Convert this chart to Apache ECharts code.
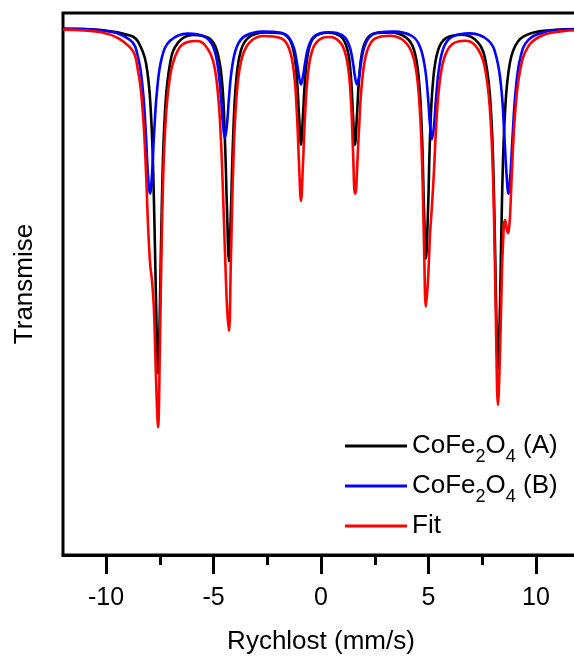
<!DOCTYPE html>
<html>
<head>
<meta charset="utf-8">
<script src="https://cdn.jsdelivr.net/npm/echarts@6/dist/echarts.min.js"></script>
<style>
html,body{margin:0;padding:0;background:#fff;overflow:hidden;width:574px;height:666px;}
#chart{width:579px;height:666px;}
</style>
</head>
<body>
<div id="chart"></div>
<script>
// Velocity (mm/s) and relative transmission
const velA = [
  -12.0, -10.23, -8.84, -8.51, -8.14, -7.91, -7.77, -7.67, -7.58, -7.49, -7.40, -7.26, -7.02, -6.65, -5.95,
  -5.21, -4.84, -4.60, -4.47, -4.37, -4.28, -4.19, -4.09, -3.95, -3.72, -3.35, -2.60,
  -1.86, -1.49, -1.26, -1.12, -1.02, -0.93, -0.84, -0.74, -0.60, -0.37, 0.00, 0.33,
  0.65, 1.02, 1.26, 1.40, 1.49, 1.58, 1.67, 1.77, 1.91, 2.14, 2.51, 3.23,
  3.95, 4.33, 4.56, 4.70, 4.79, 4.88, 4.98, 5.07, 5.21, 5.44, 5.81, 6.56,
  7.30, 7.67, 7.91, 8.05, 8.14, 8.23, 8.33, 8.42, 8.56, 8.79, 9.16, 9.77, 10.93, 12.0
];
const transA = [
  0.9996, 0.9990, 0.9961, 0.9932, 0.9825, 0.9573, 0.9135, 0.8617, 0.8272, 0.8617, 0.9134, 0.9572, 0.9823, 0.9927, 0.9965,
  0.9949, 0.9886, 0.9728, 0.9444, 0.9086, 0.8834, 0.9086, 0.9445, 0.9730, 0.9889, 0.9954, 0.9978,
  0.9974, 0.9947, 0.9878, 0.9744, 0.9560, 0.9417, 0.9559, 0.9743, 0.9878, 0.9947, 0.9973, 0.9976,
  0.9972, 0.9946, 0.9877, 0.9743, 0.9559, 0.9416, 0.9559, 0.9743, 0.9877, 0.9946, 0.9974, 0.9978,
  0.9953, 0.9889, 0.9732, 0.9451, 0.9097, 0.8848, 0.9097, 0.9451, 0.9732, 0.9887, 0.9949, 0.9966,
  0.9928, 0.9825, 0.9578, 0.9147, 0.8637, 0.8297, 0.8637, 0.9147, 0.9580, 0.9828, 0.9933, 0.9974, 0.9991, 0.9995
];

const velB = [
  -12.0, -10.23, -8.88, -8.51, -8.28, -8.14, -8.05, -7.95, -7.86, -7.77, -7.63, -7.40, -7.02, -6.21,
  -5.40, -5.02, -4.79, -4.65, -4.56, -4.47, -4.37, -4.28, -4.14, -3.91, -3.53, -2.70,
  -1.86, -1.49, -1.26, -1.12, -1.02, -0.93, -0.84, -0.74, -0.60, -0.37, 0.00, 0.37,
  0.74, 1.12, 1.35, 1.49, 1.58, 1.67, 1.77, 1.86, 2.00, 2.23, 2.60, 3.42,
  4.23, 4.60, 4.84, 4.98, 5.07, 5.16, 5.26, 5.35, 5.49, 5.72, 6.09, 6.93,
  7.79, 8.16, 8.40, 8.53, 8.63, 8.72, 8.81, 8.91, 9.05, 9.28, 9.65, 10.47, 11.16, 12.0
];
const transB = [
  0.9996, 0.9989, 0.9940, 0.9855, 0.9683, 0.9458, 0.9269, 0.9172, 0.9269, 0.9457, 0.9682, 0.9853, 0.9936, 0.9972,
  0.9956, 0.9907, 0.9800, 0.9651, 0.9520, 0.9449, 0.9520, 0.9652, 0.9800, 0.9908, 0.9960, 0.9982,
  0.9976, 0.9952, 0.9900, 0.9826, 0.9757, 0.9718, 0.9756, 0.9825, 0.9900, 0.9952, 0.9975, 0.9979,
  0.9975, 0.9952, 0.9900, 0.9825, 0.9756, 0.9718, 0.9756, 0.9825, 0.9900, 0.9952, 0.9976, 0.9982,
  0.9960, 0.9908, 0.9798, 0.9649, 0.9516, 0.9444, 0.9515, 0.9648, 0.9798, 0.9906, 0.9956, 0.9973,
  0.9937, 0.9853, 0.9682, 0.9457, 0.9268, 0.9172, 0.9269, 0.9458, 0.9682, 0.9855, 0.9941, 0.9982, 0.9991, 0.9994
];

const velFit = [
  -12.0, -10.23, -8.88, -8.51, -8.28, -8.14, -8.05, -7.95, -7.86, -7.77, -7.67, -7.58, -7.49, -7.40, -7.26, -7.02, -6.65, -6.21,
  -5.77, -5.40, -5.02, -4.79, -4.65, -4.56, -4.47, -4.37, -4.28, -4.19, -4.09, -3.95, -3.72, -3.35, -2.70,
  -1.86, -1.49, -1.26, -1.12, -1.02, -0.93, -0.84, -0.74, -0.60, -0.37, 0.00, 0.37,
  0.65, 1.02, 1.26, 1.40, 1.49, 1.58, 1.63, 1.67, 1.77, 1.91, 2.14, 2.51,
  3.23, 3.95, 4.33, 4.56, 4.70, 4.79, 4.88, 4.98, 5.07, 5.16, 5.26, 5.35, 5.49, 5.72, 6.09, 6.74,
  7.30, 7.67, 7.91, 8.05, 8.14, 8.23, 8.33, 8.42, 8.47, 8.51, 8.56, 8.60, 8.65, 8.70, 8.74, 8.79, 8.88, 9.02, 9.26, 9.63, 10.23, 11.16, 12.0
];
const transFit = [
  0.9992, 0.9979, 0.9903, 0.9786, 0.9566, 0.9283, 0.9028, 0.8824, 0.8735, 0.8592, 0.8238, 0.8004, 0.8422, 0.8987, 0.9469, 0.9759, 0.9890, 0.9930,
  0.9935, 0.9915, 0.9835, 0.9667, 0.9430, 0.9180, 0.8893, 0.8605, 0.8485, 0.8848, 0.9279, 0.9625, 0.9832, 0.9924, 0.9960,
  0.9949, 0.9899, 0.9778, 0.9569, 0.9316, 0.9135, 0.9315, 0.9568, 0.9777, 0.9899, 0.9947, 0.9955,
  0.9949, 0.9907, 0.9804, 0.9623, 0.9383, 0.9172, 0.9189, 0.9276, 0.9498, 0.9732, 0.9883, 0.9947,
  0.9961, 0.9926, 0.9840, 0.9650, 0.9328, 0.8928, 0.8606, 0.8745, 0.8966, 0.9109, 0.9296, 0.9496, 0.9700, 0.9846, 0.9918, 0.9936,
  0.9895, 0.9773, 0.9499, 0.9038, 0.8499, 0.8115, 0.8390, 0.8800, 0.8930, 0.9015, 0.9040, 0.9020, 0.8990, 0.8975, 0.8995, 0.9055, 0.9279, 0.9562, 0.9788, 0.9906, 0.9960, 0.9983, 0.9989
];

const majorTicks = [-10, -5, 0, 5, 10];
const minorTicks = [-7.5, -2.5, 2.5, 7.5];
const seriesNames = ['CoFe2O4 (A)', 'CoFe2O4 (B)', 'Fit'];
const legendLabels = ['{n|CoFe}{s|2}{n|O}{s|4}{n| (A)}', '{n|CoFe}{s|2}{n|O}{s|4}{n| (B)}', '{n|Fit}'];
const seriesColors = ['#000000', '#0000ff', '#ff0000'];

const zip = (xs, ys) => xs.map((x, i) => [x, ys[i]]);
const FONT = '"Liberation Sans", Arial, Helvetica, sans-serif';

const chart = echarts.init(document.getElementById('chart'), null, { renderer: 'canvas' });

const curves = [zip(velA, transA), zip(velB, transB), zip(velFit, transFit)];

const option = {
  animation: false,
  backgroundColor: '#ffffff',
  grid: {
    left: 63, right: 0, top: 13, bottom: 111,
    show: true, borderColor: '#000', borderWidth: 3, backgroundColor: 'transparent'
  },
  xAxis: [
    {
      type: 'value', min: -12, max: 12, position: 'bottom',
      name: 'Rychlost (mm/s)', nameLocation: 'middle', nameGap: 74,
      nameTextStyle: { fontFamily: FONT, fontSize: 26, color: '#000', lineHeight: 26 },
      axisLine: { show: true, onZero: false, lineStyle: { color: '#000', width: 3 } },
      axisTick: { show: true, inside: false, length: 19, lineStyle: { color: '#000', width: 3 }, customValues: majorTicks },
      axisLabel: { show: true, margin: 31, fontFamily: FONT, fontSize: 25, color: '#000', lineHeight: 25, customValues: majorTicks },
      splitLine: { show: false }
    },
    {
      type: 'value', min: -12, max: 12, position: 'bottom',
      axisLine: { show: false },
      axisTick: { show: true, inside: false, length: 10, lineStyle: { color: '#000', width: 3 }, customValues: minorTicks },
      axisLabel: { show: false },
      splitLine: { show: false }
    }
  ],
  yAxis: {
    type: 'value', min: 0.7365, max: 1.0075,
    name: 'Transmise', nameLocation: 'middle', nameGap: 25,
    nameTextStyle: { fontFamily: FONT, fontSize: 26, color: '#000', lineHeight: 26 },
    axisLine: { show: false }, axisTick: { show: false }, axisLabel: { show: false },
    splitLine: { show: false }
  },
  legend: {
    orient: 'vertical', left: 345, top: 426, padding: 0, itemGap: 0,
    itemWidth: 62, itemHeight: 3, icon: 'rect',
    data: seriesNames,
    formatter: function (name) { return legendLabels[seriesNames.indexOf(name)]; },
    textStyle: {
      color: '#000', fontFamily: FONT, fontSize: 26, lineHeight: 40,
      rich: {
        n: { fontFamily: FONT, fontSize: 26, lineHeight: 40, color: '#000' },
        s: { fontFamily: FONT, fontSize: 18, lineHeight: 14, verticalAlign: 'bottom', color: '#000' }
      }
    }
  },
  series: seriesNames.map((name, i) => ({
    name: name,
    type: 'line',
    xAxisIndex: 0,
    data: curves[i],
    showSymbol: false,
    symbol: 'none',
    smooth: 0.4,
    clip: true,
    lineStyle: { color: seriesColors[i], width: 2.6 },
    itemStyle: { color: seriesColors[i] },
    emphasis: { disabled: true }
  }))
};

chart.setOption(option);
</script>
</body>
</html>
